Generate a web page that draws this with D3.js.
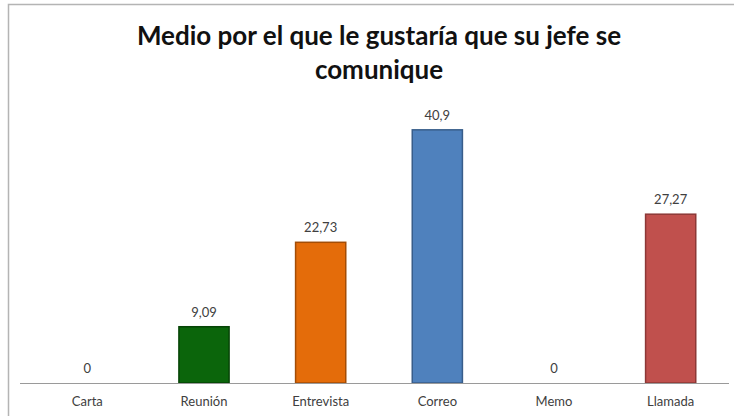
<!DOCTYPE html>
<html>
<head>
<meta charset="utf-8">
<script src="https://cdn.jsdelivr.net/npm/d3@7"></script>
<style>
  html, body { margin: 0; padding: 0; background: #fff; }
  svg { display: block; }
</style>
</head>
<body>
<svg id="chart" width="734" height="416"></svg>
<script>
// Survey results: preferred channel for the boss to communicate
const categories = ["Carta", "Reunión", "Entrevista", "Correo", "Memo", "Llamada"];
const values = [0, 9.09, 22.73, 40.9, 0, 27.27];
const valueLabels = ["0", "9,09", "22,73", "40,9", "0", "27,27"];
const fills = ["#4f81bd", "#0b650b", "#e46c0a", "#4f81bd", "#4f81bd", "#c0504d"];
const strokes = ["#385d8a", "#064406", "#a34d06", "#385d8a", "#385d8a", "#8c3836"];
const titleLines = ["Medio por el que le gustaría que su jefe se", "comunique"];

const svg = d3.select("#chart");
const W = 734, H = 416;
const font = "Lato, 'Open Sans', sans-serif";

// chart area frame (top and left edges visible)
svg.append("path")
  .attr("d", `M8.5,${H} L8.5,4.5 L${W},4.5`)
  .attr("fill", "none")
  .attr("stroke", "#b4b4b4")
  .attr("stroke-width", 1.5);

// title
svg.append("g").selectAll("text")
  .data(titleLines)
  .join("text")
  .attr("x", 379)
  .attr("y", (d, i) => 45 + i * 34)
  .attr("text-anchor", "middle")
  .attr("font-family", font)
  .attr("font-weight", "bold")
  .attr("font-size", 26)
  .attr("fill", "#111")
  .text(d => d);

const baseY = 383;
const x = d3.scaleBand()
  .domain(categories)
  .range([29, 729])
  .paddingInner(0.57)
  .paddingOuter(0.285);

const y = d3.scaleLinear()
  .domain([0, 45])
  .range([baseY, baseY - 45 * 6.19]);

// bars
svg.append("g").selectAll("rect")
  .data(values)
  .join("rect")
  .attr("x", (d, i) => x(categories[i]))
  .attr("y", d => y(d))
  .attr("width", x.bandwidth())
  .attr("height", d => baseY - y(d))
  .attr("fill", (d, i) => fills[i])
  .attr("stroke", (d, i) => d > 0 ? strokes[i] : "none")
  .attr("stroke-width", 1.5);

// value labels
svg.append("g").selectAll("text")
  .data(values)
  .join("text")
  .attr("x", (d, i) => x(categories[i]) + x.bandwidth() / 2)
  .attr("y", d => y(d) - 10)
  .attr("text-anchor", "middle")
  .attr("font-family", font)
  .attr("font-size", 13)
  .attr("fill", "#404040")
  .text((d, i) => valueLabels[i]);

// category axis
const axis = svg.append("g")
  .attr("transform", `translate(0,${baseY})`)
  .call(d3.axisBottom(x).tickSize(0).tickPadding(14));
axis.select(".domain")
  .attr("d", "M20,0.5H729")
  .attr("stroke", "#9a9a9a");
axis.selectAll("text")
  .attr("font-family", font)
  .attr("font-size", 13)
  .attr("fill", "#404040");
</script>
</body>
</html>
